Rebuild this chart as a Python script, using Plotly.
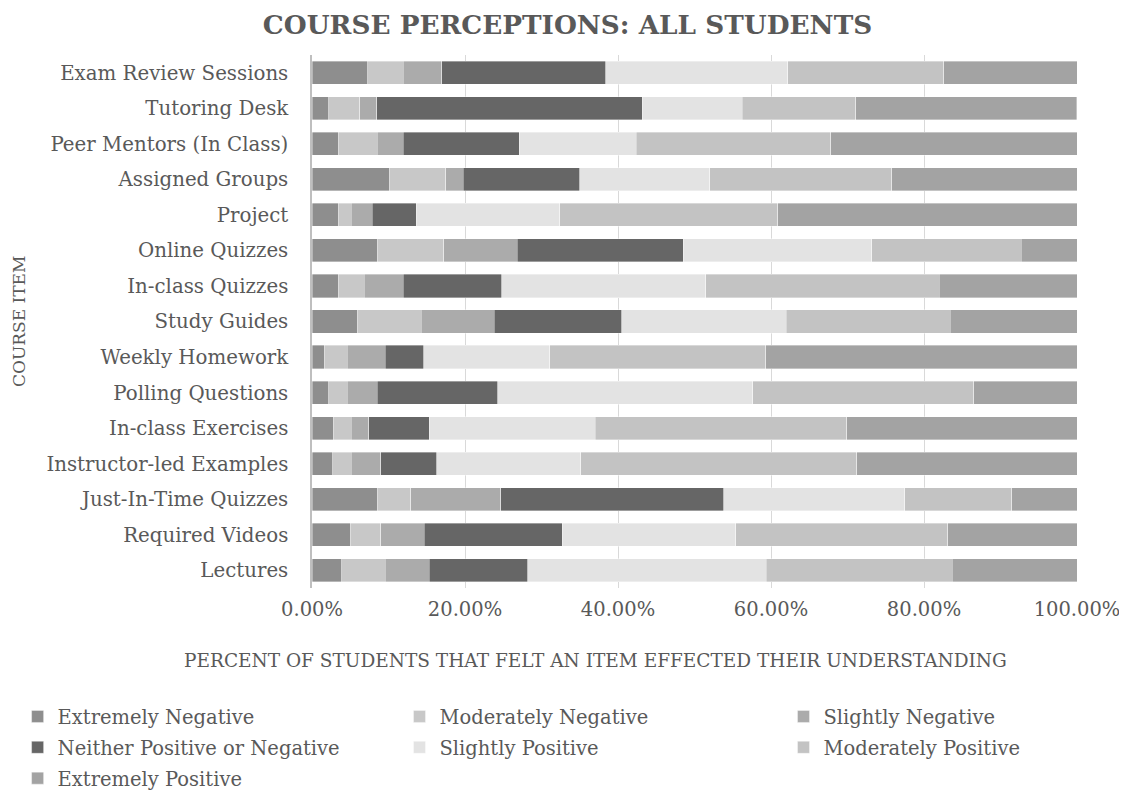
import plotly.graph_objects as go

categories = [
    "Exam Review Sessions", "Tutoring Desk", "Peer Mentors (In Class)", "Assigned Groups",
    "Project", "Online Quizzes", "In-class Quizzes", "Study Guides", "Weekly Homework",
    "Polling Questions", "In-class Exercises", "Instructor-led Examples",
    "Just-In-Time Quizzes", "Required Videos", "Lectures",
]

extremely_negative = [7.3, 2.2, 3.4, 10.1, 3.4, 8.5, 3.4, 5.9, 1.6, 2.2, 2.8, 2.7, 8.5, 5.0, 3.9]
moderately_negative = [4.6, 4.05, 5.1, 7.4, 1.7, 8.7, 3.4, 8.4, 3.0, 2.4, 2.3, 2.4, 4.4, 4.0, 5.7]
slightly_negative = [5.05, 2.2, 3.4, 2.3, 2.8, 9.6, 5.1, 9.5, 5.0, 3.9, 2.3, 3.9, 11.8, 5.7, 5.7]
neither = [21.45, 34.7, 15.2, 15.2, 5.7, 21.7, 12.9, 16.7, 5.0, 15.8, 7.9, 7.3, 29.1, 18.0, 12.9]
slightly_positive = [23.8, 13.1, 15.3, 17.0, 18.8, 24.7, 26.7, 21.5, 16.5, 33.3, 21.7, 18.8, 23.7, 22.7, 31.2]
moderately_positive = [20.4, 14.8, 25.4, 23.8, 28.5, 19.5, 30.5, 21.4, 28.2, 28.9, 32.9, 36.1, 14.0, 27.7, 24.3]
extremely_positive = [17.4, 28.9, 32.2, 24.2, 39.1, 7.3, 18.0, 16.6, 40.7, 13.5, 30.1, 28.8, 8.5, 16.9, 16.3]

series_names = [
    "Extremely Negative", "Moderately Negative", "Slightly Negative",
    "Neither Positive or Negative", "Slightly Positive", "Moderately Positive",
    "Extremely Positive",
]
series_values = [
    extremely_negative, moderately_negative, slightly_negative, neither,
    slightly_positive, moderately_positive, extremely_positive,
]
colors = ["#8e8e8e", "#c8c8c8", "#ababab", "#666666", "#e3e3e3", "#c3c3c3", "#a3a3a3"]
legend_ids = ["legend", "legend2", "legend3", "legend", "legend2", "legend3", "legend"]

FONT = "DejaVu Serif"
TXT = "#595959"

# page body has an 8px margin: figure is sized/positioned to compensate
W, H = 1119, 795

fig = go.Figure()
for name, vals, col, lg in zip(series_names, series_values, colors, legend_ids):
    fig.add_trace(go.Bar(
        y=categories, x=vals, name=name, orientation="h",
        marker=dict(color=col, line=dict(color="rgba(255,255,255,0.6)", width=0.6)),
        legend=lg, legendgroup=name,
    ))

legend_common = dict(
    orientation="v", yanchor="top", y=0.133, yref="container", xref="container",
    font=dict(family=FONT, size=19.5, color=TXT), bgcolor="rgba(0,0,0,0)",
    tracegroupgap=2.5, itemwidth=30, traceorder="grouped",
)

fig.update_layout(
    barmode="stack",
    bargap=0.35,
    width=W, height=H,
    paper_bgcolor="white", plot_bgcolor="white",
    margin=dict(l=304, r=50, t=47, b=215, autoexpand=False),
    font=dict(family=FONT, size=18, color=TXT),
    showlegend=True,
    title=dict(
        text="<b>COURSE PERCEPTIONS: ALL STUDENTS</b>",
        x=0.5, xanchor="center", y=1 - 17 / H, yanchor="middle", yref="container",
        font=dict(family=FONT, size=26.3, color=TXT),
    ),
    xaxis=dict(
        range=[0, 100], dtick=20, tickformat=".2f", ticksuffix="%",
        showgrid=True, gridcolor="#d9d9d9", gridwidth=1,
        zeroline=False, showline=False, ticks="", ticklabelstandoff=7,
        tickangle=0, automargin=False,
        tickfont=dict(family=FONT, size=19.5, color=TXT),
    ),
    yaxis=dict(
        autorange="reversed", showline=True, linecolor="#bfbfbf", linewidth=1.5,
        ticks="", ticklabelstandoff=18, automargin=False,
        tickfont=dict(family=FONT, size=19.8, color=TXT),
    ),
    legend=dict(legend_common, x=9.6 / W, xanchor="left"),
    legend2=dict(legend_common, x=391.5 / W, xanchor="left"),
    legend3=dict(legend_common, x=775.5 / W, xanchor="left"),
    annotations=[
        dict(text="PERCENT OF STUDENTS THAT FELT AN ITEM EFFECTED THEIR UNDERSTANDING",
             xref="paper", yref="paper", x=(587 - 304) / 765, y=0, xanchor="center",
             yanchor="middle", yshift=-72, showarrow=False,
             font=dict(family=FONT, size=18.5, color=TXT)),
        dict(text="COURSE ITEM", xref="paper", yref="paper", x=(10.5 - 304) / 765, y=0.5,
             xanchor="center", yanchor="middle", textangle=-90, showarrow=False,
             borderpad=0, font=dict(family=FONT, size=17, color=TXT)),
    ],
)

fig.write_html("out.html")
